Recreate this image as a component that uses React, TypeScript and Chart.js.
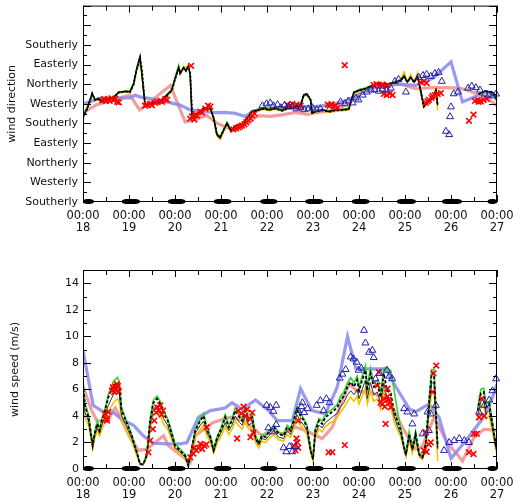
import React, { useEffect, useRef } from 'react';
import { Chart, registerables } from 'chart.js';

Chart.register(...registerables);

const FONT_FAMILY = '"DejaVu Sans", Verdana, sans-serif';
const TEXT_COLOR = '#111';

// ---------- axis labels ----------
const timeLabel = '00:00';
const dayLabels = ['18', '19', '20', '21', '22', '23', '24', '25', '26', '27'];
const dirTickLabels = ['Southerly', 'Westerly', 'Northerly', 'Easterly', 'Southerly', 'Westerly', 'Northerly', 'Easterly', 'Southerly'];
const speedTickLabels = ['0', '2', '4', '6', '8', '10', '12', '14'];

// ---------- night periods (days) ----------
const nightStart = [17.83, 18.85, 19.85, 20.85, 21.86, 22.84, 23.85, 24.83, 25.81, 26.80];
const nightEnd = [18.23, 19.23, 20.22, 21.22, 22.22, 23.22, 24.22, 25.23, 26.23, 27.20];

// ---------- wind direction (degrees, unwrapped) ----------
const dirTimes = [18.00, 18.10, 18.20, 18.26, 18.33, 18.41, 18.48, 18.57, 18.66, 18.77, 18.92, 19.02, 19.10, 19.17, 19.24, 19.28, 19.35, 19.46, 19.57, 19.68, 19.82, 19.93, 20.00, 20.08, 20.11, 20.19, 20.24, 20.29, 20.33, 20.37, 20.44, 20.53, 20.62, 20.77, 20.84, 20.91, 20.98, 21.05, 21.13, 21.22, 21.31, 21.46, 21.60, 21.67, 21.82, 21.93, 22.04, 22.18, 22.33, 22.44, 22.55, 22.73, 22.80, 22.87, 22.95, 22.98, 23.05, 23.20, 23.34, 23.49, 23.63, 23.78, 23.82, 23.89, 24.00, 24.14, 24.36, 24.51, 24.65, 24.80, 24.91, 24.98, 25.05, 25.12, 25.20, 25.27, 25.31, 25.41, 25.49, 25.60, 25.67, 25.71, 26.20, 26.60, 26.74, 26.90, 27.00];
const dirBlack = [567, 612, 680, 647, 654, 639, 654, 652, 657, 684, 687, 684, 721, 797, 849, 761, 620, 631, 635, 639, 669, 692, 744, 797, 766, 797, 782, 804, 759, 564, 572, 592, 609, 609, 564, 489, 473, 505, 541, 504, 527, 534, 572, 594, 602, 609, 602, 609, 599, 609, 612, 624, 672, 676, 647, 586, 594, 602, 594, 601, 602, 606, 639, 684, 692, 699, 721, 721, 721, 729, 737, 759, 729, 752, 729, 759, 721, 617, 639, 654, 692, 624, null, 675, 689, 684, 652];
const dirGreen = [575, 618, 675, 650, 656, 642, 652, 655, 660, 680, 690, 688, 725, 790, 830, 770, 625, 634, 638, 642, 672, 695, 750, 805, 775, 790, 785, 800, 765, 575, 578, 595, 612, 605, 568, 495, 480, 510, 545, 508, 530, 538, 575, 598, 605, 612, 606, 612, 603, 612, 615, 628, 668, 672, 650, 590, 597, 605, 598, 604, 605, 609, 642, 680, 695, 702, 722, 724, 722, 731, 740, 752, 732, 748, 732, 752, 724, 620, 642, 657, 688, 628, null, 672, 686, 680, 640];
const dirYellow = [570, 615, 672, 645, 650, 637, 650, 650, 655, 678, 684, 682, 718, 785, 815, 765, 618, 628, 632, 636, 665, 688, 745, 800, 780, 800, 795, 808, 770, 570, 568, 588, 605, 604, 560, 484, 466, 500, 536, 500, 522, 530, 568, 590, 598, 605, 598, 605, 596, 605, 608, 620, 665, 670, 644, 584, 590, 598, 590, 597, 598, 603, 636, 680, 688, 696, 718, 718, 718, 727, 745, 775, 730, 765, 730, 770, 718, 612, 636, 650, 700, 600, null, 670, 684, 680, 648];
const dirDotted = [565, 610, 676, 648, 652, 640, 652, 651, 656, 682, 686, 683, 718, 790, 840, 790, 625, 630, 634, 638, 668, 690, 740, 792, 770, 795, 780, 800, 770, 600, 570, 590, 607, 607, 566, 490, 475, 506, 540, 505, 526, 533, 571, 593, 601, 608, 601, 608, 598, 608, 611, 623, 670, 674, 646, 588, 593, 601, 593, 600, 601, 605, 637, 682, 690, 698, 720, 720, 720, 728, 736, 756, 728, 750, 728, 756, 720, 618, 638, 653, 690, 626, null, 674, 688, 683, 650];

const dirPinkDays = [18.00, 18.30, 18.65, 19.02, 19.23, 19.90, 20.22, 20.48, 20.69, 20.91, 21.27, 21.57, 21.81, 22.07, 22.33, 22.62, 22.87, 23.20, 23.49, 23.82, 24.03, 24.54, 24.91, 25.23, 25.60, 25.89, 26.17, 26.34, 26.76, 27.00];
const dirPinkVals = [590, 626, 648, 670, 602, 714, 547, 560, 576, 541, 509, 541, 576, 572, 579, 591, 581, 594, 599, 639, 684, 714, 720, 699, 704, 704, 702, 693, 662, 621];

const dirBlueDays = [18.00, 18.15, 18.37, 19.02, 19.13, 19.24, 19.46, 19.82, 20.11, 20.33, 20.62, 20.88, 21.09, 21.31, 21.53, 21.68, 21.89, 22.33, 22.68, 23.05, 23.34, 23.64, 23.93, 24.36, 24.86, 25.23, 25.60, 25.84, 26.00, 26.25, 26.43, 26.76, 27.00];
const dirBlueVals = [630, 639, 655, 657, 669, 662, 654, 639, 624, 602, 594, 590, 591, 586, 572, 594, 608, 612, 617, 617, 624, 639, 662, 711, 720, 714, 747, 792, 822, 639, 654, 684, 666];

const dirCrossDays = [18.42, 18.46, 18.50, 18.54, 18.58, 18.62, 18.66, 18.70, 18.74, 18.78, 19.35, 19.39, 19.46, 19.50, 19.57, 19.61, 19.68, 19.72, 19.79, 19.83, 20.35, 20.33, 20.37, 20.44, 20.48, 20.55, 20.59, 20.66, 20.72, 20.77, 20.42, 21.27, 21.33, 21.38, 21.42, 21.46, 21.51, 21.55, 21.59, 21.64, 21.68, 21.73, 22.44, 22.51, 22.55, 22.60, 22.64, 22.68, 22.73, 23.32, 23.36, 23.40, 23.45, 23.49, 23.53, 23.69, 24.32, 24.38, 24.45, 24.51, 24.58, 24.62, 24.54, 24.60, 24.67, 24.73, 25.34, 25.41, 25.47, 25.45, 25.52, 25.58, 25.65, 25.71, 25.78, 25.49, 25.60, 26.39, 26.49, 26.52, 26.58, 26.65, 26.71, 26.78, 26.60];
const dirCrossVals = [646, 652, 643, 650, 644, 655, 648, 652, 639, 637, 621, 626, 630, 623, 634, 639, 644, 639, 652, 648, 804, 562, 572, 580, 576, 594, 590, 608, 621, 617, 558, 513, 518, 522, 527, 531, 536, 545, 554, 562, 576, 585, 626, 621, 630, 619, 626, 617, 621, 626, 621, 628, 617, 621, 612, 807, 716, 720, 713, 718, 711, 716, 675, 670, 677, 670, 729, 734, 725, 634, 648, 657, 670, 675, 679, 641, 666, 552, 580, 643, 648, 641, 648, 652, 639];

const dirTriDays = [21.90, 21.99, 22.07, 22.14, 22.23, 22.30, 22.38, 22.47, 22.55, 22.64, 22.73, 22.81, 22.90, 22.99, 23.08, 23.16, 23.60, 23.69, 23.77, 23.86, 23.93, 23.99, 24.08, 24.17, 24.26, 24.34, 24.43, 24.51, 24.60, 24.69, 24.78, 24.86, 25.02, 25.30, 25.39, 25.47, 25.56, 25.65, 25.73, 25.80, 26.00, 25.98, 25.89, 25.96, 26.06, 26.15, 26.37, 26.45, 26.54, 26.63, 26.74, 26.82, 26.91, 26.98];
const dirTriVals = [621, 630, 634, 621, 626, 612, 623, 616, 619, 607, 612, 603, 607, 612, 603, 607, 639, 630, 643, 634, 657, 648, 670, 684, 693, 695, 688, 697, 693, 702, 733, 742, 684, 751, 760, 765, 756, 769, 774, 733, 616, 571, 504, 489, 676, 684, 702, 711, 704, 693, 675, 670, 666, 675];

// ---------- wind speed (m/s) ----------
const spdTimes = [18.00, 18.04, 18.12, 18.21, 18.26, 18.31, 18.36, 18.41, 18.48, 18.55, 18.66, 18.75, 18.79, 18.84, 18.95, 19.06, 19.17, 19.24, 19.31, 19.39, 19.46, 19.53, 19.61, 19.68, 19.75, 19.84, 19.93, 20.00, 20.11, 20.22, 20.29, 20.37, 20.44, 20.55, 20.62, 20.69, 20.77, 20.84, 20.91, 21.02, 21.09, 21.17, 21.24, 21.31, 21.38, 21.46, 21.53, 21.60, 21.68, 21.75, 21.82, 21.89, 21.97, 22.04, 22.15, 22.25, 22.36, 22.44, 22.51, 22.58, 22.65, 22.73, 22.80, 22.87, 22.95, 23.00, 23.05, 23.13, 23.20, 23.27, 23.38, 23.45, 23.53, 23.60, 23.67, 23.75, 23.82, 23.89, 23.96, 24.00, 24.07, 24.14, 24.18, 24.25, 24.32, 24.40, 24.47, 24.54, 24.61, 24.69, 24.76, 24.83, 24.91, 24.98, 25.02, 25.09, 25.16, 25.23, 25.31, 25.38, 25.45, 25.52, 25.58, 25.63, 25.67, 25.71, 26.20, 26.58, 26.65, 26.71, 26.76, 26.83, 26.90, 26.98, 27.00];
const spdDotted = [6.4, 4.8, 3.9, 1.76, 2.77, 3.4, 2.9, 3.65, 4.4, 5.4, 6.3, 6.55, 6.2, 4.4, 3.5, 2.5, 1.26, 0.38, 0.33, 1.1, 3.65, 5.0, 5.3, 4.9, 4.2, 3.65, 2.65, 1.76, 1.4, 1.0, 0.25, 1.63, 2.9, 3.65, 4.0, 3.0, 2.4, 1.4, 2.3, 3.15, 3.9, 3.15, 3.65, 4.4, 4.0, 3.65, 4.4, 3.65, 3.9, 2.4, 1.9, 2.5, 2.4, 2.8, 3.15, 2.65, 2.5, 3.15, 2.9, 3.65, 4.5, 4.0, 3.65, 3.15, 1.4, 0.75, 2.9, 3.65, 3.4, 3.9, 4.2, 4.4, 4.65, 5.2, 5.5, 6.2, 6.55, 6.2, 6.7, 5.9, 6.7, 7.45, 5.9, 7.2, 6.2, 6.4, 5.4, 7.2, 5.9, 5.7, 4.4, 3.65, 2.9, 1.63, 1.1, 2.65, 1.5, 2.65, 1.1, 0.88, 1.9, 4.9, 7.2, 7.2, 4.4, 1.63, null, 4.4, 5.7, 5.8, 4.65, 4.9, 3.4, 1.63, 2.65];
const spdGreen = [6.7, 5.0, 4.1, 1.9, 2.9, 3.6, 3.0, 3.8, 4.6, 5.6, 6.6, 6.9, 6.5, 4.6, 3.6, 2.6, 1.3, 0.4, 0.35, 1.2, 3.8, 5.2, 5.5, 5.1, 4.4, 3.8, 2.8, 1.9, 1.5, 1.1, 0.3, 1.7, 3.0, 3.8, 4.2, 3.2, 2.5, 1.5, 2.4, 3.3, 4.1, 3.3, 3.8, 4.6, 4.2, 3.8, 4.6, 3.8, 4.1, 2.5, 2.0, 2.6, 2.5, 2.9, 3.3, 2.8, 2.6, 3.3, 3.0, 3.8, 4.7, 4.2, 3.8, 3.3, 1.5, 0.8, 3.0, 3.8, 3.6, 4.1, 4.4, 4.6, 4.9, 5.5, 5.8, 6.5, 6.9, 6.5, 7.0, 6.2, 7.0, 7.8, 6.2, 7.6, 6.5, 6.7, 5.7, 7.6, 7.6, 7.4, 6.0, 4.5, 3.0, 1.7, 1.2, 2.8, 1.6, 2.8, 1.2, 0.9, 2.0, 5.1, 7.5, 7.5, 4.6, 1.7, null, 4.6, 6.0, 6.1, 4.9, 5.1, 3.6, 1.7, 2.8];
const spdBlack = [5.9, 4.3, 3.6, 1.7, 2.6, 3.1, 2.7, 3.3, 4.0, 4.8, 5.6, 5.9, 5.6, 4.0, 3.2, 2.3, 1.2, 0.4, 0.35, 1.0, 3.3, 4.5, 4.8, 4.4, 3.8, 3.3, 2.4, 1.6, 1.3, 0.9, 0.3, 1.5, 2.7, 3.3, 3.6, 2.8, 2.2, 1.3, 2.1, 2.9, 3.5, 2.9, 3.3, 4.0, 3.6, 3.3, 4.0, 3.3, 3.5, 2.2, 1.8, 2.3, 2.2, 2.5, 2.9, 2.4, 2.3, 2.9, 2.6, 3.3, 4.1, 3.6, 3.3, 2.9, 1.3, 0.7, 2.6, 3.3, 3.1, 3.5, 3.8, 4.0, 4.2, 4.7, 5.0, 5.6, 5.9, 5.6, 6.0, 5.3, 6.0, 6.7, 5.3, 6.5, 5.6, 5.8, 4.9, 6.5, 5.3, 5.1, 4.0, 3.3, 2.6, 1.5, 1.0, 2.4, 1.4, 2.4, 1.0, 0.8, 1.7, 4.4, 6.5, 6.5, 4.0, 1.5, null, 4.0, 5.1, 5.2, 4.2, 4.4, 3.1, 1.5, 2.4];
const spdYellow = [5.2, 3.9, 3.3, 1.5, 2.4, 2.9, 2.5, 3.0, 3.6, 4.3, 5.0, 5.3, 5.0, 3.6, 2.9, 2.1, 1.0, 0.3, 0.3, 0.9, 3.0, 4.1, 4.3, 4.0, 3.4, 3.0, 2.2, 1.5, 1.2, 0.8, 0.2, 1.3, 2.4, 3.0, 3.3, 2.5, 2.0, 1.2, 1.9, 2.6, 3.2, 2.6, 3.0, 3.6, 3.3, 3.0, 3.6, 3.0, 3.2, 2.0, 1.6, 2.1, 2.0, 2.3, 2.6, 2.2, 2.1, 2.6, 2.4, 3.0, 3.7, 3.3, 3.0, 2.6, 1.2, 0.6, 2.4, 3.0, 2.8, 3.2, 3.5, 3.6, 3.9, 4.3, 4.6, 5.1, 5.4, 5.1, 5.5, 4.9, 5.5, 6.1, 4.9, 5.9, 5.1, 5.3, 4.5, 5.9, 4.9, 4.7, 3.6, 3.0, 2.4, 1.4, 0.9, 2.2, 1.2, 2.2, 0.9, 0.7, 1.6, 4.0, 5.9, 5.9, 3.6, 0.6, null, 3.6, 4.7, 4.8, 3.8, 4.0, 2.8, 1.4, 2.2];

const spdPinkDays = [18.00, 18.19, 18.30, 18.52, 18.70, 18.81, 19.02, 19.20, 19.39, 19.75, 19.86, 20.11, 20.33, 20.44, 20.83, 21.20, 21.46, 21.68, 21.89, 22.07, 22.33, 22.62, 22.84, 23.20, 23.42, 23.64, 23.78, 23.96, 24.29, 24.65, 24.94, 25.23, 25.38, 25.63, 25.92, 26.25, 26.50, 26.72, 27.00];
const spdPinkVals = [6.2, 4.4, 3.65, 3.6, 4.6, 3.9, 2.4, 1.4, 1.5, 2.5, 1.76, 1.1, 0.5, 2.5, 3.5, 3.9, 3.65, 3.15, 2.5, 2.9, 2.65, 3.15, 2.9, 2.3, 3.15, 5.2, 6.4, 5.9, 5.7, 5.2, 3.15, 1.5, 1.7, 3.9, 2.0, 0.6, 2.4, 3.0, 2.9];

const spdBlueDays = [18.00, 18.22, 18.44, 18.66, 18.88, 19.10, 19.31, 19.53, 19.82, 20.11, 20.26, 20.51, 20.77, 21.09, 21.24, 21.46, 21.75, 22.04, 22.22, 22.55, 22.73, 22.98, 23.27, 23.53, 23.75, 23.93, 24.14, 24.58, 24.80, 25.09, 25.23, 25.52, 25.74, 26.00, 26.29, 26.69, 26.90, 27.00];
const spdBlueVals = [8.95, 4.8, 4.3, 4.25, 3.65, 3.3, 2.5, 1.94, 1.9, 1.9, 2.0, 3.9, 4.4, 4.6, 5.0, 4.5, 5.2, 4.4, 3.65, 3.65, 6.05, 4.4, 4.15, 6.2, 10.0, 7.6, 7.55, 7.55, 6.2, 4.55, 4.3, 4.9, 3.9, 0.8, 2.0, 3.8, 5.4, 6.4];

const spdCrossDays = [18.48, 18.52, 18.55, 18.52, 18.63, 18.65, 18.70, 18.72, 18.74, 18.76, 18.78, 18.68, 19.42, 19.46, 19.52, 19.55, 19.59, 19.61, 19.64, 19.68, 19.71, 19.74, 20.33, 20.40, 20.46, 20.51, 20.55, 20.59, 20.64, 20.68, 20.42, 20.69, 21.35, 21.38, 21.44, 21.49, 21.53, 21.57, 21.62, 21.64, 21.68, 21.70, 22.58, 22.62, 22.66, 22.68, 22.64, 22.68, 23.34, 23.42, 23.69, 24.40, 24.43, 24.47, 24.51, 24.54, 24.58, 24.62, 24.64, 24.69, 24.56, 24.62, 24.66, 25.41, 25.47, 25.45, 25.52, 25.56, 25.60, 25.62, 25.68, 26.39, 26.49, 26.50, 26.56, 26.61, 26.67, 26.72];
const spdCrossVals = [4.15, 3.8, 4.3, 3.65, 5.9, 6.15, 6.2, 6.0, 6.4, 6.25, 5.85, 5.8, 1.26, 2.14, 3.0, 3.65, 4.25, 4.65, 4.4, 4.8, 4.1, 4.4, 0.88, 1.16, 1.4, 1.6, 1.9, 1.5, 1.75, 1.85, 1.6, 3.15, 2.3, 4.4, 4.2, 4.7, 4.0, 4.5, 3.8, 2.4, 4.25, 2.75, 1.76, 1.4, 2.0, 1.6, 2.3, 3.65, 1.26, 1.26, 1.8, 6.3, 7.3, 5.0, 4.9, 5.3, 3.4, 6.05, 5.2, 4.65, 4.7, 5.45, 5.0, 1.4, 1.3, 2.77, 1.85, 2.0, 5.8, 7.2, 7.8, 1.26, 1.13, 2.65, 2.65, 3.9, 5.3, 4.0];

const spdTriDays = [21.99, 22.07, 22.14, 22.20, 22.03, 22.12, 22.20, 22.36, 22.42, 22.49, 22.55, 22.62, 22.68, 22.75, 22.81, 22.88, 22.77, 23.08, 23.16, 23.23, 23.29, 23.36, 23.58, 23.64, 23.71, 23.82, 23.88, 23.95, 23.99, 24.11, 24.14, 24.22, 24.29, 24.32, 24.36, 24.61, 24.72, 24.98, 25.05, 25.16, 25.20, 25.38, 25.49, 25.56, 25.67, 25.85, 25.96, 26.07, 26.18, 26.29, 26.39, 26.61, 26.72, 26.83, 26.90, 26.98, 24.05, 24.45, 24.66, 25.52];
const spdTriVals = [4.8, 4.65, 4.35, 4.8, 3.1, 2.8, 3.35, 1.6, 1.3, 1.7, 1.3, 1.7, 4.4, 4.7, 4.25, 4.55, 5.0, 4.8, 5.15, 4.4, 5.3, 5.0, 6.85, 7.15, 7.5, 8.45, 8.3, 8.05, 7.45, 10.45, 9.5, 8.8, 8.95, 8.4, 6.8, 7.45, 6.8, 4.55, 4.3, 3.4, 4.15, 2.65, 4.3, 4.15, 4.8, 1.4, 2.0, 2.15, 2.3, 2.15, 2.0, 4.3, 4.8, 5.2, 5.9, 6.8, 7.6, 7.2, 7.0, 2.9];

// ---------- helpers ----------
const pts = (xs: number[], ys: (number | null)[]) => xs.map((x, i) => ({ x, y: ys[i] === undefined ? null : ys[i] }));

const lineDs = (data: any[], color: string, width: number, order: number, dash: number[] = []) => ({
  data,
  showLine: true,
  borderColor: color,
  backgroundColor: color,
  borderWidth: width,
  borderDash: dash,
  pointRadius: 0,
  tension: 0,
  spanGaps: false,
  fill: false,
  order,
});

const crossDs = (data: any[]) => ({
  data,
  showLine: false,
  pointStyle: 'crossRot',
  pointRadius: 4,
  pointBorderColor: '#ff0000',
  pointBackgroundColor: 'rgba(0,0,0,0)',
  pointBorderWidth: 1.6,
  borderColor: '#ff0000',
  order: 2,
  clip: false,
});

const triDs = (data: any[]) => ({
  data,
  showLine: false,
  pointStyle: 'triangle',
  pointRadius: 4,
  pointBorderColor: '#2020a8',
  pointBackgroundColor: 'rgba(0,0,0,0)',
  pointBorderWidth: 1,
  borderColor: '#2020a8',
  order: 1,
  clip: false,
});

const zeroPad = (s: any) => {
  s.paddingLeft = 0;
  s.paddingRight = 0;
  s.paddingTop = 0;
  s.paddingBottom = 0;
};

const framePlugin = {
  id: 'frame',
  afterDatasetsDraw(chart: any, _args: any, opts: any) {
    const { ctx, chartArea: a } = chart;
    const xs = chart.scales.x;
    const ys = chart.scales.y;
    ctx.save();
    ctx.strokeStyle = '#000';
    ctx.lineWidth = 1;
    const seg = (x0: number, y0: number, x1: number, y1: number) => {
      ctx.beginPath();
      ctx.moveTo(x0, y0);
      ctx.lineTo(x1, y1);
      ctx.stroke();
    };
    // y ticks (inward, both sides)
    const nY = Math.round((opts.yMax - opts.yMin) / opts.yMinor);
    for (let k = 0; k <= nY; k++) {
      const v = opts.yMin + k * opts.yMinor;
      const y = Math.round(ys.getPixelForValue(v)) + 0.5;
      const major = k % Math.round(opts.yMajor / opts.yMinor) === 0;
      const len = major ? 8 : 4;
      seg(a.left, y, a.left + len, y);
      seg(a.right, y, a.right - len, y);
    }
    // x ticks (inward, top and bottom), every half day
    for (let k = 0; k <= 18; k++) {
      const d = 18 + k * 0.5;
      const x = Math.round(xs.getPixelForValue(d)) + 0.5;
      const len = k % 2 === 0 ? 7 : 5;
      seg(x, a.top, x, a.top + len);
      seg(x, a.bottom, x, a.bottom - len);
    }
    // frame
    ctx.strokeRect(a.left + 0.5, a.top + 0.5, a.right - a.left - 1, a.bottom - a.top - 1);
    // night bars
    ctx.fillStyle = '#000';
    for (let i = 0; i < nightStart.length; i++) {
      const x0 = Math.max(a.left, xs.getPixelForValue(nightStart[i]));
      const x1 = Math.min(a.right, xs.getPixelForValue(nightEnd[i]));
      if (x1 <= x0) continue;
      const yb = a.bottom - 0.5;
      const h = 2.4;
      const t = Math.min(3.5, (x1 - x0) / 3);
      ctx.beginPath();
      ctx.moveTo(x0, yb - h * 0.6);
      ctx.lineTo(x0 + t, yb - h);
      ctx.lineTo(x1 - t, yb - h);
      ctx.lineTo(x1, yb - h * 0.6);
      ctx.lineTo(x1, yb + h * 0.6);
      ctx.lineTo(x1 - t, yb + h);
      ctx.lineTo(x0 + t, yb + h);
      ctx.lineTo(x0, yb + h * 0.6);
      ctx.closePath();
      ctx.fill();
    }
    // axis title
    ctx.fillStyle = TEXT_COLOR;
    ctx.font = `11px ${FONT_FAMILY}`;
    ctx.textAlign = 'center';
    ctx.textBaseline = 'middle';
    ctx.translate(opts.titleX, (a.top + a.bottom) / 2);
    ctx.rotate(-Math.PI / 2);
    ctx.fillText(opts.title, 0, 0);
    ctx.restore();
  },
};

function makeOptions(p: any) {
  return {
    responsive: false,
    animation: false,
    events: [],
    layout: { padding: { left: 0, right: 16, top: p.padTop, bottom: 0 } },
    plugins: {
      legend: { display: false },
      tooltip: { enabled: false },
      frame: {
        yMin: p.yMin, yMax: p.yMax, yMinor: p.yMinor, yMajor: p.yMajor,
        title: p.title, titleX: p.titleX,
      },
    },
    scales: {
      x: {
        type: 'linear',
        min: 18,
        max: 27,
        grid: { display: false, drawTicks: false },
        border: { display: false },
        ticks: {
          stepSize: 1,
          autoSkip: false,
          maxRotation: 0,
          padding: 8,
          color: TEXT_COLOR,
          font: { family: FONT_FAMILY, size: 11.5, lineHeight: 1.07 },
          callback: (v: number) => [timeLabel, dayLabels[Math.round(v - 18)]],
        },
        afterFit: (s: any) => { s.height = p.xHeight; zeroPad(s); },
      },
      y: {
        type: 'linear',
        min: p.yMin,
        max: p.yMax,
        grid: { display: false, drawTicks: false },
        border: { display: false },
        ticks: {
          stepSize: p.yStep,
          autoSkip: false,
          padding: p.yPad,
          color: TEXT_COLOR,
          font: { family: FONT_FAMILY, size: 11 },
          callback: p.yLabel,
        },
        afterFit: (s: any) => { s.width = 83; zeroPad(s); },
      },
    },
  };
}

export default function App() {
  const topRef = useRef<HTMLCanvasElement>(null);
  const botRef = useRef<HTMLCanvasElement>(null);

  useEffect(() => {
    const top = new Chart(topRef.current as HTMLCanvasElement, {
      type: 'scatter',
      data: {
        datasets: [
          lineDs(pts(dirPinkDays, dirPinkVals), 'rgba(242,140,140,0.85)', 3.2, 10),
          lineDs(pts(dirBlueDays, dirBlueVals), 'rgba(135,135,240,0.85)', 3.2, 9),
          lineDs(pts(dirTimes, dirYellow), '#f7c200', 1.6, 7),
          lineDs(pts(dirTimes, dirGreen), '#1fb81f', 1.6, 6),
          lineDs(pts(dirTimes, dirDotted), '#000000', 1.8, 5, [2, 2]),
          lineDs(pts(dirTimes, dirBlack), '#000000', 1.3, 4),
          crossDs(pts(dirCrossDays, dirCrossVals)),
          triDs(pts(dirTriDays, dirTriVals)),
        ] as any,
      },
      options: makeOptions({
        padTop: 3, xHeight: 48, yMin: 180, yMax: 1080, yStep: 90, yMinor: 45, yMajor: 90, yPad: 5,
        title: 'wind direction', titleX: 12,
        yLabel: (v: number) => {
          const i = Math.round((v - 180) / 90);
          return i >= 0 && i < dirTickLabels.length ? dirTickLabels[i] : null;
        },
      }) as any,
      plugins: [framePlugin],
    });

    const bot = new Chart(botRef.current as HTMLCanvasElement, {
      type: 'scatter',
      data: {
        datasets: [
          lineDs(pts(spdPinkDays, spdPinkVals), 'rgba(242,140,140,0.85)', 3.2, 10),
          lineDs(pts(spdBlueDays, spdBlueVals), 'rgba(135,135,240,0.85)', 3.2, 9),
          lineDs(pts(spdTimes, spdYellow), '#f7c200', 1.6, 8),
          lineDs(pts(spdTimes, spdGreen), '#2fd62f', 1.6, 7),
          lineDs(pts(spdTimes, spdBlack), '#333333', 1.0, 6),
          lineDs(pts(spdTimes, spdDotted), '#000000', 1.8, 5, [3, 2]),
          crossDs(pts(spdCrossDays, spdCrossVals)),
          triDs(pts(spdTriDays, spdTriVals)),
        ] as any,
      },
      options: makeOptions({
        padTop: 20, xHeight: 33, yMin: 0, yMax: 15, yStep: 2, yMinor: 1, yMajor: 2, yPad: 4,
        title: 'wind speed (m/s)', titleX: 15,
        yLabel: (v: number) => {
          const i = Math.round(v / 2);
          return Math.abs(v - i * 2) < 1e-6 && i < speedTickLabels.length ? speedTickLabels[i] : null;
        },
      }) as any,
      plugins: [framePlugin],
    });

    return () => {
      top.destroy();
      bot.destroy();
    };
  }, []);

  return (
    <div style={{ position: 'absolute', left: 0, top: 0, width: 513, height: 502, background: '#fff' }}>
      <canvas ref={topRef} width={513} height={250} style={{ position: 'absolute', left: 0, top: 0, width: 513, height: 250 }} />
      <canvas ref={botRef} width={513} height={252} style={{ position: 'absolute', left: 0, top: 250, width: 513, height: 252 }} />
    </div>
  );
}
